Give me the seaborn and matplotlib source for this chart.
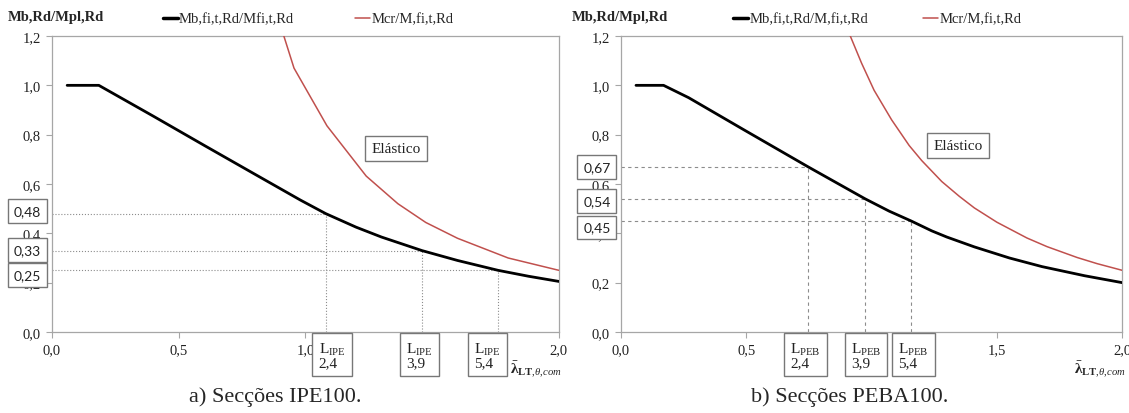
import matplotlib
matplotlib.use("Agg")
import matplotlib.pyplot as plt
import matplotlib.transforms as mtransforms
from matplotlib.lines import Line2D
import seaborn as sns
import pandas as pd

# ---------------- data ----------------
lam_ipe_b = [0.06, 0.185, 0.4, 0.6, 0.8, 0.98, 1.08, 1.2, 1.3, 1.46, 1.6, 1.76, 1.88, 2.0]
m_ipe_b = [1.0, 1.0, 0.875, 0.757, 0.64, 0.535, 0.48, 0.425, 0.385, 0.33, 0.29, 0.25, 0.226, 0.205]
lam_ipe_r = [0.915, 0.955, 1.085, 1.24, 1.365, 1.475, 1.6, 1.8, 2.0]
m_ipe_r = [1.2, 1.07, 0.836, 0.632, 0.52, 0.444, 0.38, 0.30, 0.25]

lam_peb_b = [0.06, 0.17, 0.27, 0.49, 0.746, 0.974, 1.07, 1.158, 1.24, 1.3, 1.41, 1.55, 1.68, 1.85, 2.0]
m_peb_b = [1.0, 1.0, 0.95, 0.82, 0.67, 0.54, 0.49, 0.45, 0.41, 0.385, 0.345, 0.30, 0.265, 0.228, 0.2]
lam_peb_r = [0.915, 0.96, 1.01, 1.08, 1.15, 1.2, 1.28, 1.35, 1.41, 1.5, 1.62, 1.7, 1.82, 1.9, 2.0]
m_peb_r = [1.2, 1.09, 0.98, 0.86, 0.756, 0.695, 0.61, 0.55, 0.503, 0.445, 0.381, 0.346, 0.302, 0.277, 0.25]

lam_ipe_mark = [1.08, 1.46, 1.76]
m_ipe_mark = [0.48, 0.33, 0.25]
lab_ipe_y = ["0,48", "0,33", "0,25"]
lab_ipe_len = ["2,4", "3,9", "5,4"]

lam_peb_mark = [0.746, 0.974, 1.158]
m_peb_mark = [0.67, 0.54, 0.45]
lab_peb_y = ["0,67", "0,54", "0,45"]
lab_peb_len = ["2,4", "3,9", "5,4"]

yticks = [0.0, 0.2, 0.4, 0.6, 0.8, 1.0, 1.2]
ytick_labels = ["0,0", "0,2", "0,4", "0,6", "0,8", "1,0", "1,2"]
xticks = [0.0, 0.5, 1.0, 1.5, 2.0]
xtick_labels = ["0,0", "0,5", "1,0", "1,5", "2,0"]

# label box positions (layout only)
ipe_ybox_pos = [0.49, 0.332, 0.23]
ipe_xbox_pos = [1.105, 1.45, 1.72]
peb_ybox_pos = [0.668, 0.53, 0.424]
peb_xbox_pos = [0.737, 0.978, 1.167]

# ---------------- style ----------------
sns.set_style("white")
plt.rcParams["font.serif"] = ["Liberation Serif", "DejaVu Serif"]
plt.rcParams["font.family"] = ["serif"]
plt.rcParams["mathtext.fontset"] = "custom"
plt.rcParams["mathtext.rm"] = "Liberation Serif"
plt.rcParams["mathtext.it"] = "Liberation Serif:italic"
plt.rcParams["mathtext.bf"] = "Liberation Serif:bold"

RED = "#c0504d"
GRAY = "#8c8c8c"
SERIF = ["Liberation Serif", "DejaVu Serif"]

fig = plt.figure(figsize=(11.29, 4.14), dpi=100)
ax1 = fig.add_axes([0.046, 0.1957, 0.449, 0.7149])
ax2 = fig.add_axes([0.550, 0.1957, 0.444, 0.7149])


def panel(ax, lb, mb, lr, mr, lmark, mmark, ylabs, lens, ybox, xbox, sub,
          lstyle, leg_b, leg_x, lab_x):
    dfb = pd.DataFrame({"x": lb, "y": mb})
    dfr = pd.DataFrame({"x": lr, "y": mr})
    for xv, yv in zip(lmark, mmark):
        ax.plot([0, xv], [yv, yv], color=GRAY, lw=0.8, ls=lstyle, zorder=1)
        ax.plot([xv, xv], [0, yv], color=GRAY, lw=0.8, ls=lstyle, zorder=1)
    sns.lineplot(data=dfb, x="x", y="y", ax=ax, color="black", lw=2.0,
                 sort=False, estimator=None, zorder=3)
    sns.lineplot(data=dfr, x="x", y="y", ax=ax, color=RED, lw=1.1,
                 sort=False, estimator=None, zorder=3)
    ax.set_xlim(0, 2.0)
    ax.set_ylim(0, 1.2)
    ax.set_xticks(xticks)
    ax.set_xticklabels(xtick_labels, family=SERIF)
    ax.set_yticks(yticks)
    ax.set_yticklabels(ytick_labels, family=SERIF)
    ax.set_xlabel("")
    ax.set_ylabel("")
    for s in ax.spines.values():
        s.set_color("#a6a6a6")
        s.set_linewidth(0.9)
        s.set_visible(True)
    ax.tick_params(axis="both", direction="out", length=4, width=0.8,
                   color="#a6a6a6", labelsize=10.5, labelcolor="#222222",
                   bottom=True, left=True, pad=4)

    tr_y = mtransforms.blended_transform_factory(ax.transAxes, ax.transData)
    for yb, t in zip(ybox, ylabs):
        ax.text(-0.048, yb, t, transform=tr_y, ha="center", va="center",
                fontsize=10, family=["Lato", "DejaVu Sans"], color="#222222",
                clip_on=False, zorder=10,
                bbox=dict(boxstyle="square,pad=0.42", fc="white", ec="#777777", lw=1.0))
    tr_x = mtransforms.blended_transform_factory(ax.transData, ax.transAxes)
    for xb, t in zip(xbox, lens):
        ax.text(xb, -0.078, r"$\mathregular{L_{%s}}$" % sub + "\n" + t,
                transform=tr_x, ha="center", va="center", fontsize=11,
                family=SERIF, linespacing=1.0, color="#222222", clip_on=False,
                zorder=10, multialignment="left",
                bbox=dict(boxstyle="square,pad=0.4", fc="white", ec="#777777", lw=1.0))
    ax.text(lab_x, -0.125,
            r"$\bar{\mathbf{\lambda}}_{\mathbf{LT}{,}\mathit{\theta{,}com}}$",
            transform=ax.transAxes, ha="right", va="center", fontsize=11,
            clip_on=False)

    h1 = [Line2D([], [], color="black", lw=2.5)]
    h2 = [Line2D([], [], color=RED, lw=1.1)]
    l1 = ax.legend(h1, [leg_b], loc="lower left", bbox_to_anchor=(leg_x[0], 1.035),
                   frameon=False, handlelength=1.0, handletextpad=0.1,
                   borderpad=0, borderaxespad=0, prop=dict(family=SERIF, size=10.5))
    ax.add_artist(l1)
    ax.legend(h2, ["Mcr/M,fi,t,Rd"], loc="lower left", bbox_to_anchor=(leg_x[1], 1.035),
              frameon=False, handlelength=1.0, handletextpad=0.1,
              borderpad=0, borderaxespad=0, prop=dict(family=SERIF, size=10.5))


panel(ax1, lam_ipe_b, m_ipe_b, lam_ipe_r, m_ipe_r, lam_ipe_mark, m_ipe_mark,
      lab_ipe_y, lab_ipe_len, ipe_ybox_pos, ipe_xbox_pos, "IPE", ":",
      "Mb,fi,t,Rd/Mfi,t,Rd", (0.219, 0.598), 1.006)
panel(ax2, lam_peb_b, m_peb_b, lam_peb_r, m_peb_r, lam_peb_mark, m_peb_mark,
      lab_peb_y, lab_peb_len, peb_ybox_pos, peb_xbox_pos, "PEB", (0, (3, 3)),
      "Mb,fi,t,Rd/M,fi,t,Rd", (0.224, 0.603), 1.008)

for ax, (xe, ye) in zip([ax1, ax2], [(1.357, 0.744), (1.345, 0.756)]):
    ax.text(xe, ye, "Elástico", ha="center", va="center", fontsize=11,
            family=SERIF, color="#222222", zorder=10,
            bbox=dict(boxstyle="square,pad=0.4", fc="white", ec="#777777", lw=1.0))

for xp in [8, 572]:
    fig.text(xp / 1129, 1 - 17 / 414, "Mb,Rd/Mpl,Rd", fontsize=10.5, weight="bold",
             family=SERIF, ha="left", va="center")

fig.text(275 / 1129, 1 - 397 / 414, "a) Secções IPE100.", fontsize=16,
         family=SERIF, ha="center", va="center")
fig.text(850 / 1129, 1 - 397 / 414, "b) Secções PEBA100.", fontsize=16,
         family=SERIF, ha="center", va="center")

fig.savefig("out.png", dpi=100)
